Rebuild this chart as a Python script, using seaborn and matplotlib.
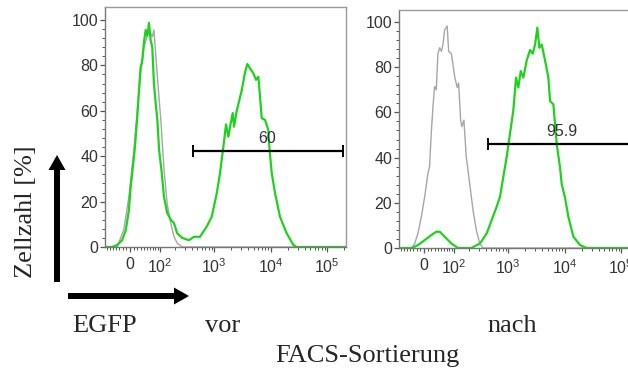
import numpy as np
import pandas as pd
import matplotlib
matplotlib.use("Agg")
import matplotlib.pyplot as plt
import seaborn as sns
from matplotlib.patches import FancyArrow

sns.set_style("white")
plt.rcParams["font.family"] = ["Liberation Sans", "DejaVu Sans"]
plt.rcParams["mathtext.default"] = "regular"

# --- data (EGFP intensity, % of max) ---
vor_gray_x = [-78, -35, -16, -3, 10.6, 19.6, 29, 39, 55.6, 67.6, 74, 88.6, 105, 122,
              141, 165, 190, 218, 270, 215000]
vor_gray_y = [0, 0, 8, 22, 42.7, 60, 76.5, 88, 95.6, 92.6, 95.6, 75, 56, 34,
              19, 10.5, 4.5, 1.7, 0, 0]

vor_egfp_x = [-78, -52, -35, -21, -11, -3, 2, 6, 12.5, 19.6, 24.4, 29, 34, 39, 44.5,
              50, 55.6, 61.5, 67.6, 74, 81.5, 88.6, 96.5, 108, 122, 141, 165, 190,
              218, 270, 357, 439, 560, 739, 906, 1111, 1272, 1455, 1625, 1785, 1966,
              2133, 2250, 2512, 3080, 3523, 3873, 4322, 4943, 5517, 6058, 6494, 6960,
              7950, 9106, 9480, 10450, 11960, 14625, 19250, 25200, 28950, 215000]
vor_egfp_y = [0, 0, 0.9, 3, 7.5, 16, 26.5, 32.5, 42.7, 57, 69, 79, 82, 90, 95.6,
              93, 98.7, 91, 88, 72, 63, 56, 42.7, 34, 22, 15, 12, 10.5,
              6, 4, 3, 4.5, 4.5, 9, 13.3, 23.6, 32.5, 44, 54, 48.6, 54.5,
              59, 53, 60, 69, 77, 80.6, 78.7, 76.5, 73.6, 75, 66, 56.7,
              56, 51.5, 44, 32.5, 23.7, 13.3, 6, 0.9, 0, 0]

nach_gray_x = [-78, -33, -25, -16, -7, 2, 10.6, 15, 19.6, 24.4, 29, 34, 39, 44.5, 50,
               55.6, 61.5, 71, 77, 88.6, 105, 118, 125.5, 137.5, 145.5, 159, 176,
               204, 235, 270, 311, 357, 215000]
nach_gray_y = [0, 0, 2, 6.5, 13.8, 22.7, 33, 36, 50.7, 62.5, 71.4, 70, 86, 88.6, 87,
               90, 96.5, 98.2, 87, 86, 75.4, 71, 73, 56.6, 53.7, 56.6, 40.4,
               28.6, 16.8, 8, 2, 0, 0]

nach_egfp_x = [-78, -33, -16, 2, 19.6, 34, 44.5, 61.5, 88.6, 122, 218, 315, 416, 511,
               627, 718, 822, 944, 1080, 1236, 1380, 1516, 1671, 1858, 2133, 2443,
               2727, 2995, 3289, 3568, 3935, 4501, 5148, 5517, 6309, 6766, 7249, 8292,
               8886, 10170, 11630, 14270, 18720, 24600, 215000]
nach_egfp_y = [0, 0, 1.3, 3.5, 5.7, 7.2, 7.2, 5, 2, 0, 0, 2, 6.5, 12.4,
               18.3, 22.7, 31.5, 40.4, 50.7, 61, 75.4, 71, 78.3, 75.4, 83, 87.6,
               86, 90, 97.5, 88.6, 90, 83, 75.4, 65, 63.6, 54.7, 45.9, 35.5,
               28.2, 22.2, 13.8, 5, 1.3, 0, 0]

# gates: start, end, height, label, label x, label y
gate_vor = [416, 190000, 42.4, "60", 8500, 48]
gate_nach = [434, 190000, 45.9, "95.9", 8886, 51.5]

x_major = [0, 100, 1000, 10000, 100000]
x_major_labels = ["0", "$10^{2}$", "$10^{3}$", "$10^{4}$", "$10^{5}$"]
x_minor = ([-70, -60, -50, -40, -30, -20, -10, 10, 20, 30, 40, 50, 60, 70, 80, 90]
           + [200, 300, 400, 500, 600, 700, 800, 900]
           + [2000, 3000, 4000, 5000, 6000, 7000, 8000, 9000]
           + [20000, 30000, 40000, 50000, 60000, 70000, 80000, 90000, 200000])

GREEN = "#1ed21e"
GRAY = "#a6a6a6"
W = 65.0


def fwd(x):
    return np.arcsinh(np.asarray(x, dtype=float) / W)


def inv(y):
    return W * np.sinh(np.asarray(y, dtype=float))


fig = plt.figure(figsize=(6.28, 3.72), dpi=100)
ax1 = fig.add_axes([105 / 628, 1 - 247 / 372, 241 / 628, 240 / 372])
ax2 = fig.add_axes([399 / 628, 1 - 248 / 372, 241 / 628, 238 / 372])

panels = [
    (ax1, vor_gray_x, vor_gray_y, vor_egfp_x, vor_egfp_y, gate_vor, 105.7),
    (ax2, nach_gray_x, nach_gray_y, nach_egfp_x, nach_egfp_y, gate_nach, 105.3),
]

for ax, gx, gy, ex, ey, gate, ytop in panels:
    gray_df = pd.DataFrame({"x": gx, "y": gy})
    egfp_df = pd.DataFrame({"x": ex, "y": ey})
    ax.set_xscale("function", functions=(fwd, inv))
    sns.lineplot(data=gray_df, x="x", y="y", sort=False, estimator=None,
                 color=GRAY, lw=1.0, ax=ax)
    sns.lineplot(data=egfp_df, x="x", y="y", sort=False, estimator=None,
                 color=GREEN, lw=1.6, ax=ax)
    # gate bar
    ax.plot([gate[0], gate[1]], [gate[2], gate[2]], color="black", lw=1.6,
            marker="|", markersize=8, mew=1.4)
    ax.text(gate[4], gate[5], gate[3], ha="center", va="center",
            fontsize=11.5, color="#333333")

    ax.set_xlim(-78, 215000)
    ax.set_ylim(0, ytop)
    ax.set_xticks(x_major)
    ax.set_xticklabels(x_major_labels)
    ax.set_xticks(x_minor, minor=True)
    ax.set_yticks([0, 20, 40, 60, 80, 100])
    ax.set_yticks(np.arange(4, 100, 4), minor=True)
    ax.set_xlabel("")
    ax.set_ylabel("")
    ax.tick_params(axis="both", which="major", direction="out", length=3.5,
                   width=0.9, color="#555555", labelsize=11.5,
                   labelcolor="#333333", pad=1.5)
    ax.tick_params(axis="x", which="major", pad=4)
    ax.tick_params(axis="both", which="minor", direction="out", length=2,
                   width=0.7, color="#555555")
    ax.tick_params(bottom=True, left=True, which="both")
    for side, sp in ax.spines.items():
        sp.set_visible(True)
        sp.set_linewidth(1.0)
        sp.set_color("#777777" if side in ("left", "bottom") else "#9a9a9a")

# annotation layer in pixel units
ov = fig.add_axes([0, 0, 1, 1], facecolor="none")
ov.set_xlim(0, 628)
ov.set_ylim(372, 0)
ov.axis("off")
ov.add_patch(FancyArrow(57, 282, 0, -127, width=6, head_width=17,
                        head_length=15, length_includes_head=True,
                        color="black", lw=0))
ov.add_patch(FancyArrow(68, 296, 121, 0, width=6, head_width=17,
                        head_length=15, length_includes_head=True,
                        color="black", lw=0))

serif = ["Liberation Serif", "DejaVu Serif"]
ov.text(26, 212, "Zellzahl [%]", rotation=90, ha="center", va="center",
        fontsize=19, family=serif)
ov.text(72, 332, "EGFP", ha="left", va="baseline", fontsize=19, family=serif)
ov.text(205, 332, "vor", ha="left", va="baseline", fontsize=19, family=serif)
ov.text(487, 332, "nach", ha="left", va="baseline", fontsize=19, family=serif)
ov.text(275, 362, "FACS-Sortierung", ha="left", va="baseline", fontsize=19,
        family=serif)

fig.savefig("out.png", dpi=100)
plt.close(fig)
